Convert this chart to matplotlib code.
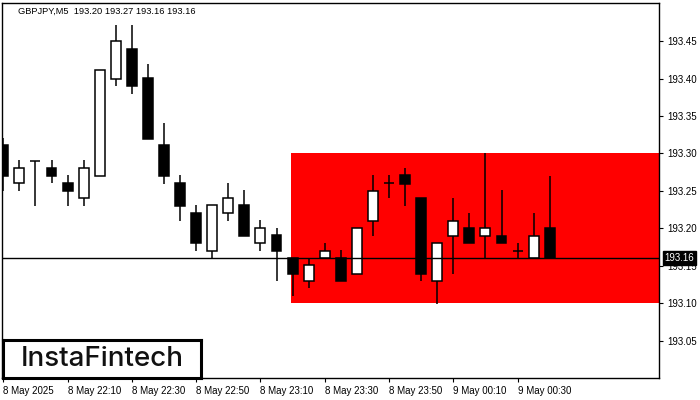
"""
GBPJPY M5 candlestick chart with a red price zone.
"""

import matplotlib.pyplot as plt
from matplotlib.patches import Rectangle


SYMBOL_TITLE = "GBPJPY,M5  193.20 193.27 193.16 193.16"

OPEN = [
    193.311, 193.260, 193.290, 193.281, 193.260, 193.241, 193.270, 193.400,
    193.440, 193.401, 193.311, 193.260, 193.220, 193.170, 193.220, 193.231,
    193.181, 193.191, 193.160, 193.130, 193.160, 193.160, 193.139, 193.210,
    193.260, 193.271, 193.241, 193.130, 193.190, 193.200, 193.190, 193.190,
    193.170, 193.160, 193.200
]

HIGH = [
    193.320, 193.291, 193.290, 193.291, 193.271, 193.291, 193.411, 193.471,
    193.471, 193.420, 193.341, 193.271, 193.231, 193.231, 193.260, 193.251,
    193.211, 193.200, 193.160, 193.160, 193.181, 193.171, 193.200, 193.271,
    193.271, 193.281, 193.241, 193.181, 193.241, 193.220, 193.300, 193.251,
    193.180, 193.220, 193.270
]

LOW = [
    193.250, 193.250, 193.230, 193.260, 193.230, 193.230, 193.270, 193.390,
    193.379, 193.319, 193.259, 193.210, 193.170, 193.160, 193.210, 193.190,
    193.170, 193.130, 193.110, 193.120, 193.160, 193.130, 193.139, 193.190,
    193.240, 193.230, 193.130, 193.099, 193.139, 193.180, 193.160, 193.180,
    193.160, 193.160, 193.160
]

CLOSE = [
    193.270, 193.281, 193.290, 193.270, 193.250, 193.281, 193.411, 193.450,
    193.390, 193.319, 193.270, 193.230, 193.180, 193.231, 193.241, 193.190,
    193.200, 193.170, 193.139, 193.151, 193.170, 193.130, 193.200, 193.250,
    193.260, 193.259, 193.139, 193.181, 193.210, 193.180, 193.200, 193.180,
    193.170, 193.190, 193.160
]

TICK_POSITIONS = [0, 4, 8, 12, 16, 20, 24, 28, 32]

TICK_LABELS = [
    "8 May 2025",
    "8 May 22:10",
    "8 May 22:30",
    "8 May 22:50",
    "8 May 23:10",
    "8 May 23:30",
    "8 May 23:50",
    "9 May 00:10",
    "9 May 00:30"
]

PRICE_TICKS = [193.05, 193.10, 193.15, 193.20, 193.25, 193.30, 193.35, 193.40, 193.45]

ZONE_START = 17.9
ZONE_LOW = 193.10
ZONE_HIGH = 193.30

LAST_PRICE = 193.16

X_MIN = -0.08
X_MAX = 40.8
Y_MIN = 193.0
Y_MAX = 193.501

BODY_WIDTH = 0.62
FONT = "Liberation Sans"


def draw_candles(ax) -> None:
    """
    Draw wicks and bodies.
    """

    for i, (o, h, l, c) in enumerate(zip(OPEN, HIGH, LOW, CLOSE)):
        ax.vlines(i, l, h, color="black", linewidth=1.1, zorder=3)

        if abs(c - o) < 1e-6:
            ax.hlines(
                o,
                i - BODY_WIDTH / 2,
                i + BODY_WIDTH / 2,
                color="black",
                linewidth=1.1,
                zorder=4
            )
            continue

        face = "white" if c > o else "black"
        ax.bar(
            i,
            abs(c - o),
            bottom=min(o, c),
            width=BODY_WIDTH,
            facecolor=face,
            edgecolor="black",
            linewidth=1.1,
            zorder=4
        )


def create_chart() -> None:
    """
    Build the whole figure.
    """

    fig = plt.figure(figsize=(7, 4), dpi=100)
    ax = fig.add_axes([2 / 700, 22 / 400, 657 / 700, 375 / 400])

    ax.set_xlim(X_MIN, X_MAX)
    ax.set_ylim(Y_MIN, Y_MAX)

    ax.add_patch(
        Rectangle(
            (ZONE_START, ZONE_LOW),
            X_MAX - ZONE_START,
            ZONE_HIGH - ZONE_LOW,
            facecolor="#ff0000",
            edgecolor="none",
            zorder=1
        )
    )

    draw_candles(ax)

    ax.axhline(LAST_PRICE, color="black", linewidth=1, zorder=5)

    for spine in ax.spines.values():
        spine.set_linewidth(1)

    ax.yaxis.tick_right()
    ax.set_yticks(PRICE_TICKS)
    ax.set_yticklabels([f"{p:.2f}" for p in PRICE_TICKS])
    ax.set_xticks(TICK_POSITIONS)
    ax.set_xticklabels(TICK_LABELS, ha="left")

    ax.tick_params(
        axis="both",
        direction="out",
        length=3,
        width=0.8,
        labelsize=7,
        pad=3
    )

    for label in ax.get_xticklabels() + ax.get_yticklabels():
        label.set_fontfamily(FONT)

    ax.annotate(
        f"{LAST_PRICE:.2f}",
        xy=(1, LAST_PRICE),
        xycoords=("axes fraction", "data"),
        xytext=(4, 0),
        textcoords="offset points",
        ha="left",
        va="center",
        color="white",
        fontsize=7,
        fontfamily=FONT,
        bbox=dict(boxstyle="square,pad=0.2", facecolor="black", edgecolor="black"),
        annotation_clip=False,
        zorder=10
    )

    fig.text(
        18 / 700,
        1 - 11 / 400,
        SYMBOL_TITLE,
        fontsize=6.7,
        fontfamily=FONT,
        va="center",
        ha="left"
    )

    logo_ax = fig.add_axes([3 / 700, 22 / 400, 198 / 700, 38 / 400])
    logo_ax.set_xticks([])
    logo_ax.set_yticks([])
    for spine in logo_ax.spines.values():
        spine.set_linewidth(2.2)
    logo_ax.text(
        0.5,
        0.5,
        "InstaFintech",
        fontsize=20,
        fontfamily="Inter",
        fontweight="medium",
        ha="center",
        va="center",
        color="#111111"
    )

    fig.savefig("out.png", dpi=100)


def main() -> None:
    """
    Run the chart.
    """

    create_chart()


if __name__ == "__main__":
    main()
